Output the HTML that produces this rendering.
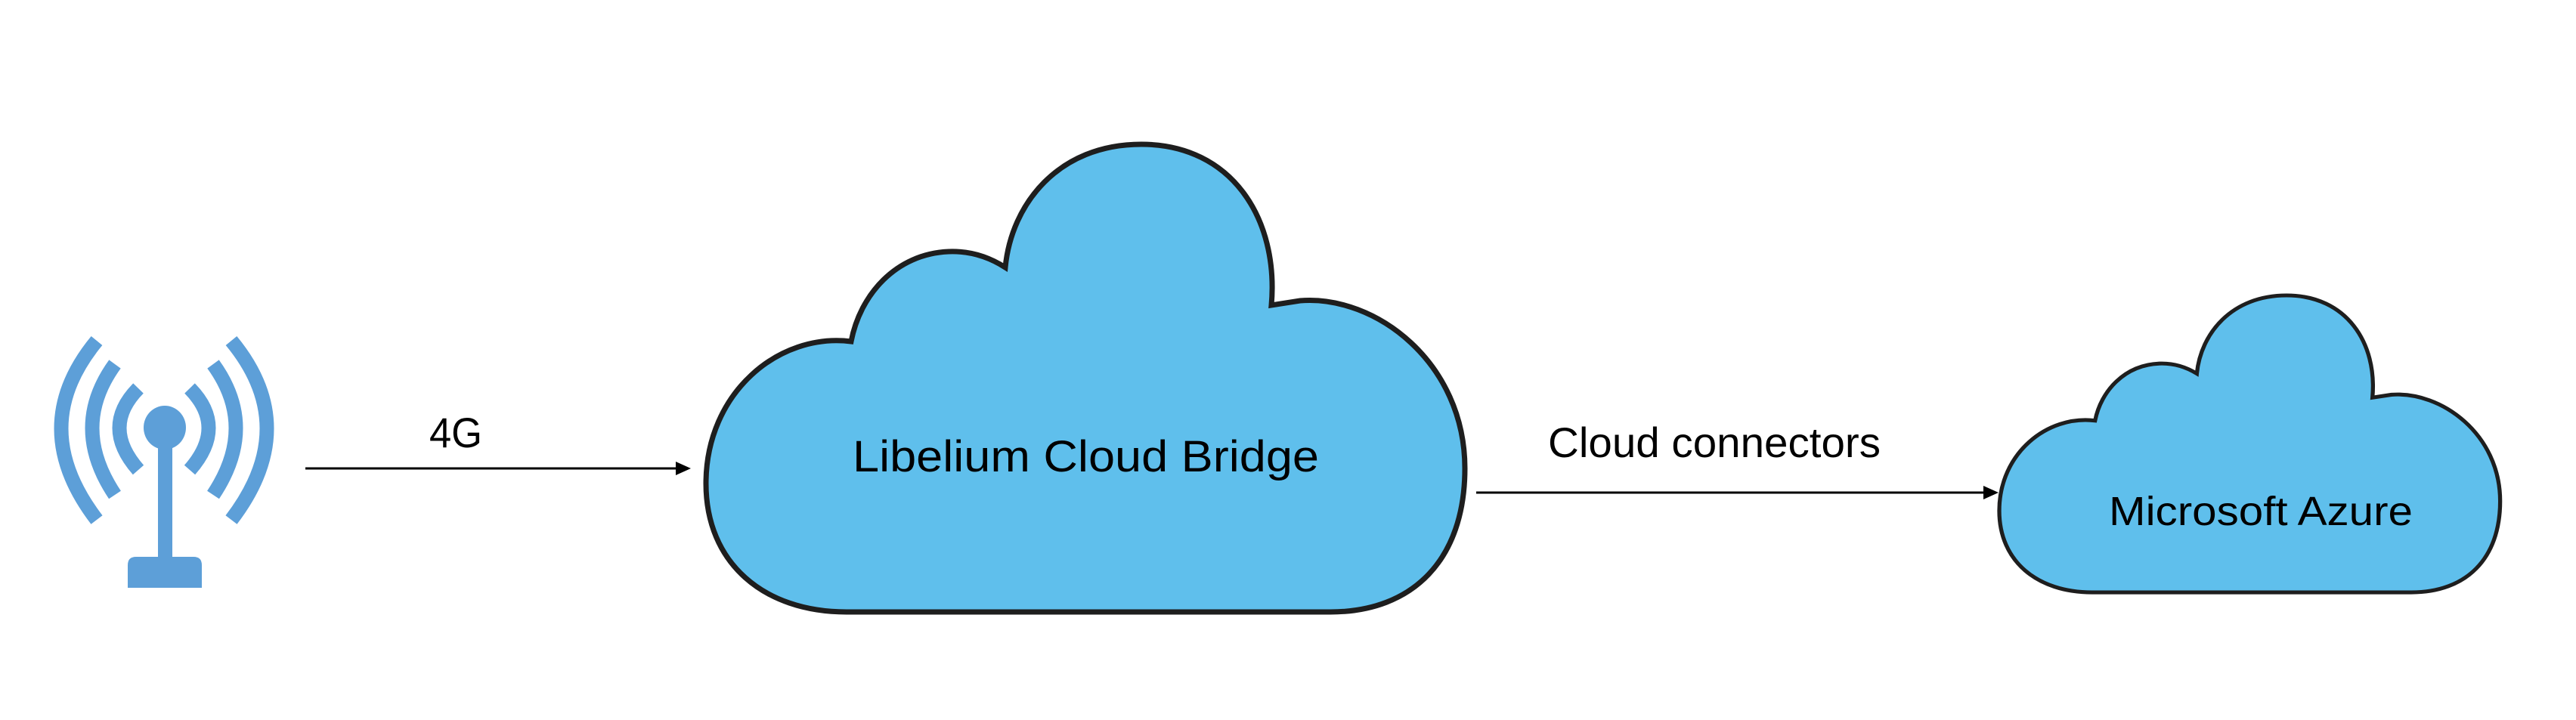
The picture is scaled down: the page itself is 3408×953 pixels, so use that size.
<!DOCTYPE html>
<html><head><meta charset="utf-8"><style>
html,body{margin:0;padding:0;background:#fff;}
svg{display:block;}
text{font-family:"Liberation Sans",sans-serif;fill:#000;}
</style></head><body>
<svg width="3408" height="953" viewBox="0 0 3408 953" xmlns="http://www.w3.org/2000/svg">
<rect width="3408" height="953" fill="#fff"/>
<defs>
<path id="cloud" d="M 1120 810 L 1760 810 C 1870 810 1938 740 1938 620 C 1938 480 1820 390 1720 398 L 1682 404 C 1692 290 1630 191 1510 191 C 1400 191 1338 270 1330 354 C 1305 338 1280 332 1255 333 C 1185 336 1138 390 1126 452 C 1030 440 934 520 934 640 C 934 745 1010 810 1120 810 Z"/>
</defs>
<!-- antenna -->
<g fill="none" stroke="#5d9fd8" stroke-width="19">
<path d="M 128 451 Q 34 565 128 688"/>
<path d="M 152 482 Q 92 565 152 655"/>
<path d="M 183 514 Q 133 565 183 622"/>
<path d="M 306 451 Q 400 565 306 688"/>
<path d="M 282 482 Q 342 565 282 655"/>
<path d="M 251 514 Q 301 565 251 622"/>
</g>
<ellipse cx="218" cy="566" rx="28" ry="29" fill="#5d9fd8"/>
<rect x="209" y="580" width="19" height="160" fill="#5d9fd8"/>
<path d="M 169 778 L 169 748 Q 169 737 180 737 L 256 737 Q 267 737 267 748 L 267 778 Z" fill="#5d9fd8"/>
<!-- 4G arrow -->
<line x1="404" y1="620" x2="896" y2="620" stroke="#000" stroke-width="3"/>
<path d="M 914 620 L 894 611 L 894 629 Z" fill="#000"/>
<text x="568" y="592" font-size="56" textLength="70" lengthAdjust="spacingAndGlyphs">4G</text>
<!-- big cloud -->
<use href="#cloud" fill="#5fbfec" stroke="#1e1e1e" stroke-width="7"/>
<text x="1128" y="624" font-size="58" textLength="617" lengthAdjust="spacingAndGlyphs">Libelium Cloud Bridge</text>
<!-- cloud connectors arrow -->
<line x1="1953" y1="652" x2="2626" y2="652" stroke="#000" stroke-width="3"/>
<path d="M 2644 652 L 2624 643 L 2624 661 Z" fill="#000"/>
<text x="2048" y="605" font-size="56" textLength="440" lengthAdjust="spacingAndGlyphs">Cloud connectors</text>
<!-- azure cloud -->
<g transform="translate(2645,391) scale(0.66,0.635) translate(-934,-191)">
<use href="#cloud" fill="#5fbfec" stroke="#1e1e1e" stroke-width="8"/>
</g>
<text x="2790" y="695" font-size="54" textLength="402" lengthAdjust="spacingAndGlyphs">Microsoft Azure</text>
</svg>
</body></html>
